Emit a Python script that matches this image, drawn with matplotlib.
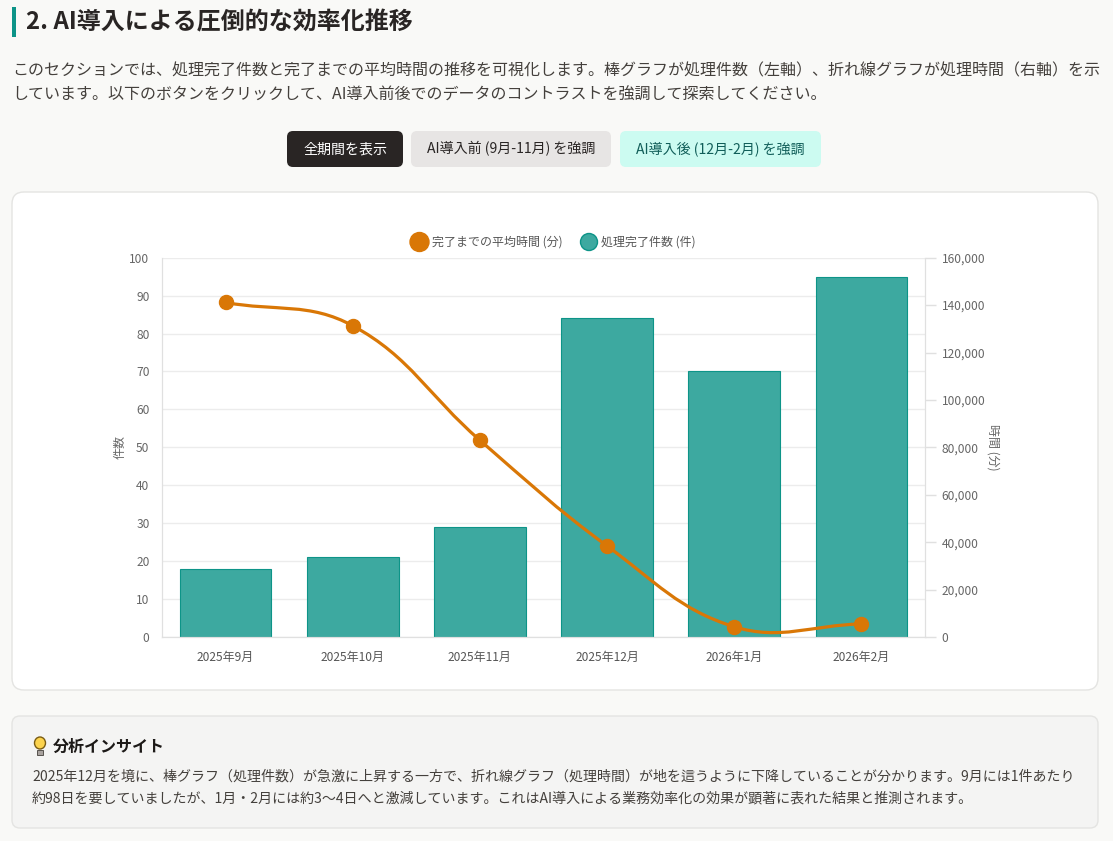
import numpy as np
import matplotlib
matplotlib.use("Agg")
import matplotlib.pyplot as plt
from matplotlib.patches import FancyBboxPatch, Rectangle, Circle, PathPatch, Ellipse
from matplotlib.path import Path
from matplotlib.ticker import FuncFormatter, MultipleLocator

plt.rcParams['font.family'] = ['Noto Sans CJK JP', 'DejaVu Sans']

# ---- data ----
months = ['2025年9月', '2025年10月', '2025年11月', '2025年12月', '2026年1月', '2026年2月']
counts = [18, 21, 29, 84, 70, 95]                       # 処理完了件数 (件)
avg_minutes = [141120, 131300, 83000, 38400, 4320, 5500]  # 完了までの平均時間 (分)

title = '2. AI導入による圧倒的な効率化推移'
para_lines = ['このセクションでは、処理完了件数と完了までの平均時間の推移を可視化します。棒グラフが処理件数（左軸）、折れ線グラフが処理時間（右軸）を示',
              'しています。以下のボタンをクリックして、AI導入前後でのデータのコントラストを強調して探索してください。']
buttons = ['全期間を表示', 'AI導入前 (9月-11月) を強調', 'AI導入後 (12月-2月) を強調']
legend_labels = ['完了までの平均時間 (分)', '処理完了件数 (件)']
insight_title = '分析インサイト'
insight_lines = ['2025年12月を境に、棒グラフ（処理件数）が急激に上昇する一方で、折れ線グラフ（処理時間）が地を這うように下降していることが分かります。9月には1件あたり',
                 '約98日を要していましたが、1月・2月には約3〜4日へと激減しています。これはAI導入による業務効率化の効果が顕著に表れた結果と推測されます。']

W, H = 1113, 841
PT = 0.72
fig = plt.figure(figsize=(W / 100, H / 100), dpi=100)
fig.patch.set_facecolor('#f9f9f7')

bg = fig.add_axes([0, 0, 1, 1], zorder=0)
bg.set_xlim(0, W)
bg.set_ylim(H, 0)
bg.axis('off')


def rbox(x0, y0, x1, y1, fc, ec='none', r=6, lw=1):
    p = FancyBboxPatch((x0, y0), x1 - x0, y1 - y0,
                       boxstyle=f"round,pad=0,rounding_size={r}",
                       fc=fc, ec=ec, lw=lw)
    bg.add_patch(p)


# title
bg.add_patch(Rectangle((12, 7), 3.5, 30, fc='#0d9488', ec='none'))
bg.text(26, 22, title, fontsize=24 * PT, fontweight='bold', color='#292524',
        va='center', ha='left')
# paragraph
for i, ln in enumerate(para_lines):
    bg.text(12, 71 + i * 24.5, ln, fontsize=16 * PT, color='#44403c', va='center', ha='left')

# buttons
btn_geo = [(287, 403, '#292524', 'white'),
           (411, 611, '#e7e5e4', '#292524'),
           (620, 821, '#ccfbf1', '#115e59')]
for (x0, x1, fc, tc), lab in zip(btn_geo, buttons):
    rbox(x0, 131, x1, 167, fc, r=6)
    bg.text((x0 + x1) / 2, 149, lab, fontsize=14 * PT, color=tc, ha='center', va='center')

# card
rbox(12, 192, 1098, 690, 'white', ec='#e4e4e2', r=12, lw=1)

# legend
bg.add_patch(Circle((419.5, 242), 9.5, fc='#d97706', ec='#d97706', lw=1))
bg.text(432, 242, legend_labels[0], fontsize=12 * PT, color='#555555', va='center', ha='left')
bg.add_patch(Circle((589, 242), 8.5, fc='#3da9a0', ec='#0d9488', lw=1))
bg.text(601, 242, legend_labels[1], fontsize=12 * PT, color='#555555', va='center', ha='left')

# insight box
rbox(12, 716, 1098, 828, '#f4f4f3', ec='#e4e4e2', r=8, lw=1)
# bulb icon
bg.add_patch(Ellipse((40, 743), 11, 12, fc='#fcd34d', ec='#7a5c12', lw=1))
bg.add_patch(Rectangle((37.3, 749.5), 5.4, 5.5, fc='#a8a29e', ec='#57534e', lw=0.7))
bg.text(53, 747, insight_title, fontsize=16 * PT, fontweight='bold', color='#1c1917',
        va='center', ha='left')
for i, ln in enumerate(insight_lines):
    bg.text(32, 777 + i * 21.5, ln, fontsize=14 * PT, color='#44403c', va='center', ha='left')

# ---- chart ----
L, R, T, B = 162, 925, 257.7, 637
ax = fig.add_axes([L / W, 1 - B / H, (R - L) / W, (B - T) / H], zorder=2)
ax.patch.set_alpha(0)
x = np.arange(len(months))
ax.bar(x, counts, width=0.72, color='#3da9a0', edgecolor='#0d9488', linewidth=0.8, zorder=2)
ax.set_xlim(-0.5, len(months) - 0.5)
ax.set_ylim(0, 100)
ax.yaxis.set_major_locator(MultipleLocator(10))
ax.set_xticks(x)
ax.set_xticklabels(months)
ax.grid(axis='y', color='#ececec', lw=1, zorder=0)
ax.set_axisbelow(True)
ax.spines['top'].set_visible(False)
for s in ['left', 'right', 'bottom']:
    ax.spines[s].set_color('#e0e0e0')
ax.tick_params(axis='y', length=0, pad=9, labelsize=12 * PT, labelcolor='#666666')
ax.tick_params(axis='x', length=0, pad=10, labelsize=12 * PT, labelcolor='#555555')
ax.set_ylabel('件数', fontsize=12 * PT, color='#666666', labelpad=2)

ax2 = ax.twinx()
ax2.set_ylim(0, 160000)
ax2.yaxis.set_major_locator(MultipleLocator(20000))
ax2.yaxis.set_major_formatter(FuncFormatter(lambda v, p: f'{int(v):,}'))
ax2.tick_params(axis='y', length=8, width=1, color='#e0e0e0', pad=4,
                labelsize=12 * PT, labelcolor='#666666')
ax2.spines['top'].set_visible(False)
for s in ['left', 'right', 'bottom']:
    ax2.spines[s].set_color('#e0e0e0')
ax2.set_ylabel('時間 (分)', fontsize=12 * PT, color='#666666', rotation=-90, labelpad=10)

# Chart.js-like smooth line (tension 0.4), control points computed in display space
fig.canvas.draw()
pts = ax2.transData.transform(np.column_stack([x, avg_minutes]))
t = 0.4
n = len(pts)
cp_prev = np.zeros_like(pts)
cp_next = np.zeros_like(pts)
for i in range(n):
    p0 = pts[i - 1] if i > 0 else pts[i]
    p1 = pts[i]
    p2 = pts[i + 1] if i < n - 1 else pts[i]
    d01 = np.hypot(*(p1 - p0))
    d12 = np.hypot(*(p2 - p1))
    tot = d01 + d12
    s01 = d01 / tot if tot else 0
    s12 = d12 / tot if tot else 0
    cp_prev[i] = p1 - t * s01 * (p2 - p0)
    cp_next[i] = p1 + t * s12 * (p2 - p0)
verts = [pts[0]]
codes = [Path.MOVETO]
for i in range(n - 1):
    verts += [cp_next[i], cp_prev[i + 1], pts[i + 1]]
    codes += [Path.CURVE4] * 3
inv = ax2.transData.inverted()
verts_d = inv.transform(np.array(verts))
ax2.add_patch(PathPatch(Path(verts_d, codes), fc='none', ec='#d97706', lw=3.2 * PT,
                        capstyle='round', joinstyle='round', zorder=3))
ax2.plot(x, avg_minutes, 'o', color='#d97706', ms=14 * PT, mec='#d97706', zorder=4)

fig.savefig('out.png', dpi=100, facecolor=fig.get_facecolor())
